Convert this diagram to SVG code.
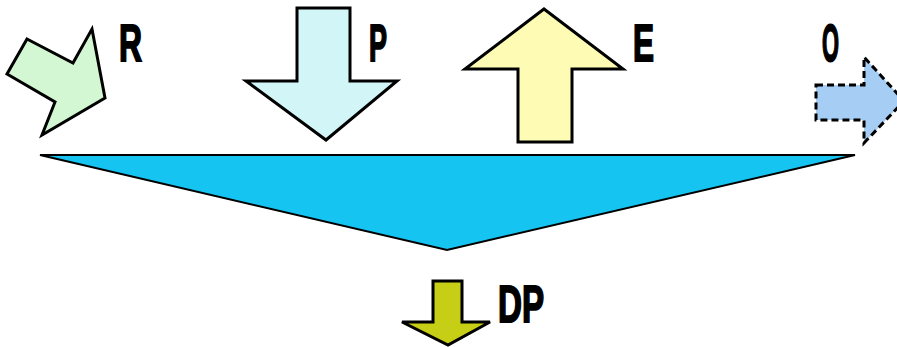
<svg xmlns="http://www.w3.org/2000/svg" width="897" height="347" viewBox="0 0 897 347">
  <style>
    .arrow { stroke: #000; stroke-width: 3; stroke-linejoin: miter; }
    .lbl { font-family: "Liberation Sans", Arial, sans-serif; font-weight: bold; font-size: 52px; fill: #000; stroke: #000; stroke-width: 2; }
  </style>
  <rect width="897" height="347" fill="#fff"/>

  <!-- inflow arrows and labels -->
  <g id="R">
    <polygon class="arrow" fill="#d2f7d2" points="27,39 73,63 92,29 105,98 42,135 55,102 7,74"/>
    <text class="lbl" x="119" y="61" textLength="23" lengthAdjust="spacingAndGlyphs">R</text>
  </g>
  <g id="P">
    <polygon class="arrow" fill="#d2f6f8" points="297,8 350,8 350,81 397,81 326,140 246,81 297,81"/>
    <text class="lbl" x="369" y="61" textLength="18" lengthAdjust="spacingAndGlyphs">P</text>
  </g>
  <g id="E">
    <polygon class="arrow" fill="#fefcb4" points="544,9 623,69 572,69 572,142 518,142 518,69 465,69"/>
    <text class="lbl" x="633" y="61" textLength="21" lengthAdjust="spacingAndGlyphs">E</text>
  </g>
  <g id="O">
    <polygon class="arrow" fill="#a6cef4" stroke-dasharray="7,4" points="816,85 864,85 864,57 904,101 864,143 864,120 816,120"/>
    <text class="lbl" x="822" y="61" textLength="17" lengthAdjust="spacingAndGlyphs">O</text>
  </g>

  <!-- storage wedge -->
  <g id="storage">
    <polygon fill="#16c4f1" stroke="#000" stroke-width="2" points="40,155 855,155 447,250"/>
  </g>

  <!-- outflow -->
  <g id="DP">
    <polygon class="arrow" fill="#c6cf16" points="433,281 462,281 462,322 490,322 448,345 402,322 433,322"/>
    <text class="lbl" x="498" y="322" font-size="56" textLength="46" lengthAdjust="spacingAndGlyphs">DP</text>
  </g>
</svg>
